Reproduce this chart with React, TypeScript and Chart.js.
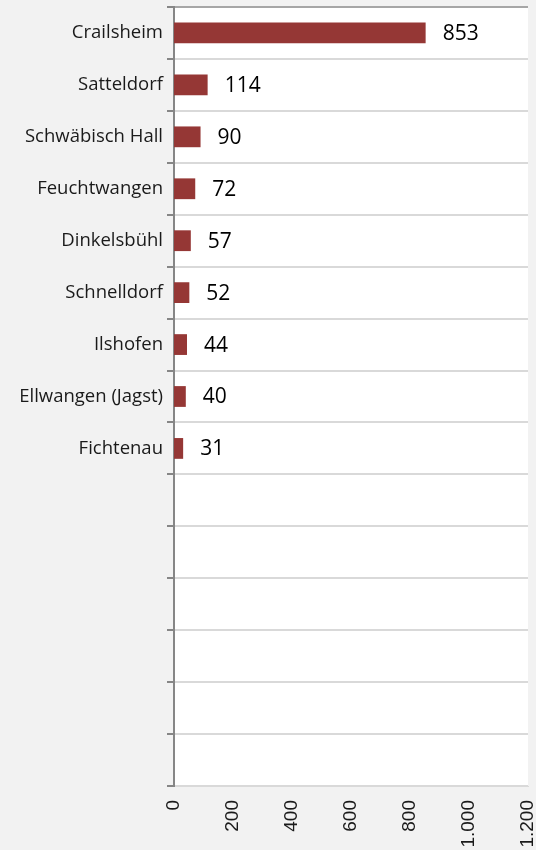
import React, { useEffect, useRef } from "react";
import { Chart, registerables } from "chart.js";

Chart.register(...registerables);

const categories: string[] = [
  "Crailsheim",
  "Satteldorf",
  "Schwäbisch Hall",
  "Feuchtwangen",
  "Dinkelsbühl",
  "Schnelldorf",
  "Ilshofen",
  "Ellwangen (Jagst)",
  "Fichtenau",
  "",
  "",
  "",
  "",
  "",
  "",
];

const values: (number | null)[] = [853, 114, 90, 72, 57, 52, 44, 40, 31, null, null, null, null, null, null];

const xMin = 0;
const xMax = 1200;
const xStep = 200;

const bgPlugin = {
  id: "bgPlugin",
  beforeDraw(chart: any) {
    const { ctx, chartArea } = chart;
    ctx.save();
    ctx.fillStyle = "#f2f2f2";
    ctx.fillRect(0, 0, chart.width, chart.height);
    ctx.fillStyle = "#ffffff";
    ctx.fillRect(chartArea.left, chartArea.top, chartArea.right - chartArea.left, chartArea.bottom - chartArea.top);
    ctx.restore();
  },
};

const labelPlugin = {
  id: "labelPlugin",
  afterDatasetsDraw(chart: any) {
    const { ctx } = chart;
    const meta = chart.getDatasetMeta(0);
    ctx.save();
    ctx.font = "21px 'Open Sans'";
    ctx.fillStyle = "#000000";
    ctx.textAlign = "left";
    ctx.textBaseline = "middle";
    meta.data.forEach((el: any, i: number) => {
      const v = values[i];
      if (v === null || v === undefined) return;
      ctx.fillText(String(v), el.x + 17, el.y + 1);
    });
    ctx.restore();
  },
};

export default function App() {
  const ref = useRef<HTMLCanvasElement>(null);

  useEffect(() => {
    document.body.style.margin = "0";
    const canvas = ref.current!;
    const chart = new Chart(canvas, {
      type: "bar",
      data: {
        labels: categories,
        datasets: [
          {
            data: values,
            backgroundColor: "#953735",
            borderWidth: 0,
            categoryPercentage: 1,
            barPercentage: 0.4,
          },
        ],
      },
      options: {
        indexAxis: "y",
        responsive: false,
        animation: false,
        layout: { padding: { top: 7, right: 8, left: 0, bottom: 0 } },
        plugins: {
          legend: { display: false },
          tooltip: { enabled: false },
        },
        scales: {
          x: {
            min: xMin,
            max: xMax,
            afterFit(scale: any) {
              scale.height = 64;
              scale.paddingLeft = 0;
              scale.paddingRight = 0;
            },
            ticks: {
              stepSize: xStep,
              minRotation: 90,
              maxRotation: 90,
              padding: 14,
              color: "#1a1a1a",
              font: { family: "'Liberation Sans'", size: 19 },
              callback: (v: any) => Number(v).toLocaleString("de-DE"),
            },
            grid: { display: false, drawTicks: false },
            border: { display: true, color: "#d9d9d9", width: 1 },
          },
          y: {
            afterFit(scale: any) {
              scale.width = 174;
              scale.paddingTop = 0;
              scale.paddingBottom = 0;
            },
            ticks: {
              padding: 4,
              color: "#1a1a1a",
              font: { family: "'Open Sans'", size: 18.5 },
            },
            grid: {
              color: (c: any) => (c.index === 0 ? "#a6a6a6" : "#d9d9d9"),
              tickColor: "#868686",
              tickLength: 7,
              lineWidth: 2,
            },
            border: { display: true, color: "#868686", width: 2 },
          },
        },
      },
      plugins: [bgPlugin, labelPlugin],
    });
    return () => chart.destroy();
  }, []);

  return (
    <div style={{ position: "fixed", left: 0, top: 0, width: 536, height: 850 }}>
      <canvas ref={ref} width={536} height={850} style={{ display: "block" }} />
    </div>
  );
}
